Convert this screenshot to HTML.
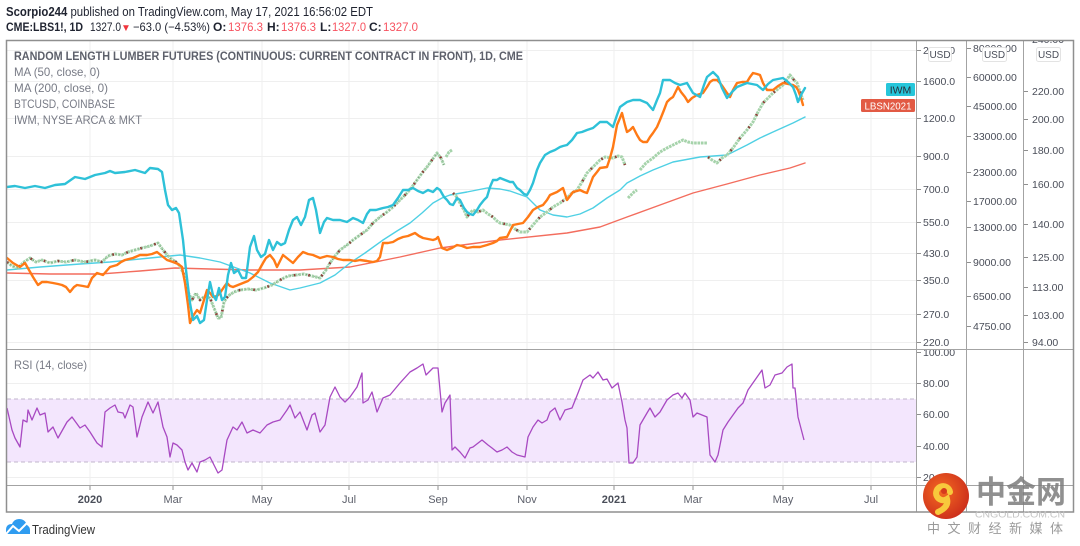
<!DOCTYPE html>
<html><head><meta charset="utf-8"><style>
html,body{margin:0;padding:0;background:#fff;}
svg{display:block;}
text{font-family:"Liberation Sans","Noto Sans CJK SC",sans-serif;}
</style></head><body>
<svg width="1080" height="546" viewBox="0 0 1080 546" xmlns="http://www.w3.org/2000/svg">
<defs>
<clipPath id="main"><rect x="7" y="41" width="909" height="308"/></clipPath>
<clipPath id="rsi"><rect x="7" y="350" width="909" height="136"/></clipPath>
<clipPath id="rsiax"><rect x="916" y="350" width="50" height="136"/></clipPath>
<clipPath id="topax"><rect x="916" y="41" width="157" height="308"/></clipPath>
<radialGradient id="lg" cx="0.4" cy="0.4" r="0.7"><stop offset="0" stop-color="#f46a22"/><stop offset="1" stop-color="#c9291b"/></radialGradient>
</defs>

<!-- header -->
<text x="6" y="16" font-size="12.5" fill="#1f2330" textLength="367" lengthAdjust="spacingAndGlyphs"><tspan font-weight="bold">Scorpio244</tspan> published on TradingView.com, May 17, 2021 16:56:02 EDT</text>
<g font-size="12" fill="#1f2330">
<text x="6" y="31" font-weight="bold" textLength="77" lengthAdjust="spacingAndGlyphs">CME:LBS1!, 1D</text>
<text x="90" y="31" textLength="31" lengthAdjust="spacingAndGlyphs">1327.0</text>
<text x="121" y="31" fill="#f0353d" font-size="10">▼</text>
<text x="133" y="31" textLength="77" lengthAdjust="spacingAndGlyphs">−63.0 (−4.53%)</text>
<text x="213" y="31" font-weight="bold">O:</text><text x="228" y="31" fill="#f7525f" textLength="35" lengthAdjust="spacingAndGlyphs">1376.3</text>
<text x="267" y="31" font-weight="bold">H:</text><text x="281" y="31" fill="#f7525f" textLength="35" lengthAdjust="spacingAndGlyphs">1376.3</text>
<text x="320" y="31" font-weight="bold">L:</text><text x="332" y="31" fill="#f7525f" textLength="34" lengthAdjust="spacingAndGlyphs">1327.0</text>
<text x="369" y="31" font-weight="bold">C:</text><text x="383" y="31" fill="#f7525f" textLength="35" lengthAdjust="spacingAndGlyphs">1327.0</text>
</g>

<!-- grid -->
<g stroke="#efefef" stroke-width="1">
<path d="M90 41V486M173 41V486M262 41V486M349 41V486M438 41V486M527 41V486M614 41V486M693 41V486M783 41V486M871 41V486"/>
<path d="M7 50.5H916M7 81.5H916M7 118.5H916M7 156.5H916M7 189.5H916M7 222.5H916M7 253.5H916M7 280.5H916M7 314.5H916M7 342.5H916"/>
<path d="M7 383.5H916M7 414.5H916M7 446.5H916M7 477.5H916"/>
</g>

<!-- legend -->
<g font-size="12" fill="#787b86">
<text x="14" y="60" font-weight="bold" fill="#5d606b" textLength="509" lengthAdjust="spacingAndGlyphs">RANDOM LENGTH LUMBER FUTURES (CONTINUOUS: CURRENT CONTRACT IN FRONT), 1D, CME</text>
<text x="14" y="76" textLength="86" lengthAdjust="spacingAndGlyphs">MA (50, close, 0)</text>
<text x="14" y="92" textLength="94" lengthAdjust="spacingAndGlyphs">MA (200, close, 0)</text>
<text x="14" y="108" textLength="101" lengthAdjust="spacingAndGlyphs">BTCUSD, COINBASE</text>
<text x="14" y="124" textLength="128" lengthAdjust="spacingAndGlyphs">IWM, NYSE ARCA &amp; MKT</text>
</g>

<g clip-path="url(#main)" fill="none" stroke-linejoin="round" stroke-linecap="round">
<!-- MA200 -->
<polyline stroke="#f36d5e" stroke-width="1.4" points="7,273 50,274 100,274 140,271 175,268 210,269 250,270 300,270 350,267 400,257 440,248 470,244 500,240 567,233 600,227 627,217 660,205 693,193 727,184 760,175 790,168 805,163"/>
<!-- MA50 -->
<polyline stroke="#4fd0e4" stroke-width="1.4" points="7,270 40,267 80,264 110,262 150,258 180,255 200,258 220,262 250,273 270,283 290,290 300,288 320,283 335,275 350,263 365,253 383,240 397,231 410,223 422,213 433,203 442,198 450,195 467,192 487,188 500,189 510,191 527,197 540,210 553,215 567,217 580,214 593,208 607,198 620,190 627,183 640,176 653,170 673,162 700,157 727,155 747,145 760,138 773,132 793,123 805,117"/>
<!-- candles -->
<g stroke-linecap="butt">
<g stroke="#a6d3ab" stroke-width="3" stroke-dasharray="2.6 0.8">
<polyline points="7,262 12,266 18,268 24,262 30,258 36,262 42,260 50,263 58,261 66,262 75,260 85,262 95,260 102,262 108,256 115,254 122,255 128,252 135,250 142,248 150,246 158,243 163,250 170,258 176,262 180,266 184,275 188,292 192,300 196,293 200,300 205,296 210,298 214,308 218,318 221,318 224,302 228,296 234,292 240,290 248,289 256,290 264,288 272,285 280,280 288,276 296,275 304,274 312,276 320,278 326,270 330,263 335,256 340,250 347,245 353,240 360,235 367,230 373,223 380,217 387,212 393,207 400,200 407,193 412,187 417,180 422,173 427,167 432,160 437,153 441,158 444,165"/>
<polyline points="446,157 449,152 452,150"/>
<polyline points="453,193 456,196 460,203 464,210 467,217 470,213 473,210 478,212 483,210 488,214 493,217 497,221 500,223 505,224 510,225 515,229 520,232 527,232 533,225 540,217 547,212 553,207 560,203 567,198 572,193 577,190 582,182 587,173 593,167 600,160 605,157 613,158 618,156 622,157 625,165"/>
<polyline points="628,198 631,195 634,192 637,190"/>
<polyline points="640,170 646,163 653,158 660,152 667,148 675,144 683,140 688,142 693,143 700,143 707,143"/>
<polyline points="708,157 712,160 717,163 722,158 727,155 733,148 740,138 747,130 753,122 758,112 763,103 768,98 773,93 778,89 783,85 788,78 790,75 794,80 797,83 800,92 803,100"/>
</g>
<g stroke="#6f8f74" stroke-width="0.8">
<polyline points="7,262 12,266 18,268 24,262 30,258 36,262 42,260 50,263 58,261 66,262 75,260 85,262 95,260 102,262 108,256 115,254 122,255 128,252 135,250 142,248 150,246 158,243 163,250 170,258 176,262 180,266 184,275 188,292 192,300 196,293 200,300 205,296 210,298 214,308 218,318 221,318 224,302 228,296 234,292 240,290 248,289 256,290 264,288 272,285 280,280 288,276 296,275 304,274 312,276 320,278 326,270 330,263 335,256 340,250 347,245 353,240 360,235 367,230 373,223 380,217 387,212 393,207 400,200 407,193 412,187 417,180 422,173 427,167 432,160 437,153 441,158 444,165" stroke-dasharray="1 3"/>
</g>
<g stroke="#8e3a36" stroke-width="2.6" stroke-dasharray="1.6 13">
<polyline points="7,262 12,266 18,268 24,262 30,258 36,262 42,260 50,263 58,261 66,262 75,260 85,262 95,260 102,262 108,256 115,254 122,255 128,252 135,250 142,248 150,246 158,243 163,250 170,258 176,262 180,266 184,275 188,292 192,300 196,293 200,300 205,296 210,298 214,308 218,318 221,318 224,302 228,296 234,292 240,290 248,289 256,290 264,288 272,285 280,280 288,276 296,275 304,274 312,276 320,278 326,270 330,263 335,256 340,250 347,245 353,240 360,235 367,230 373,223 380,217 387,212 393,207 400,200 407,193 412,187 417,180 422,173 427,167 432,160 437,153 441,158 444,165"/>
<polyline points="453,193 456,196 460,203 464,210 467,217 470,213 473,210 478,212 483,210 488,214 493,217 497,221 500,223 505,224 510,225 515,229 520,232 527,232 533,225 540,217 547,212 553,207 560,203 567,198 572,193 577,190 582,182 587,173 593,167 600,160 605,157 613,158 618,156 622,157 625,165"/>
<polyline points="708,157 712,160 717,163 722,158 727,155 733,148 740,138 747,130 753,122 758,112 763,103 768,98 773,93 778,89 783,85 788,78 790,75 794,80 797,83 800,92 803,100"/>
</g>
</g>
<!-- BTC orange -->
<polyline stroke="#ff7a16" stroke-width="2.4" points="7,258 13,263 20,267 25,263 29,270 33,277 38,285 42,282 47,282 53,283 58,284 62,285 66,287 70,292 74,287 77,285 83,286 88,287 92,278 97,273 103,275 110,267 117,265 121,262 125,260 133,258 140,255 147,255 152,254 157,252 162,256 167,260 173,262 178,264 182,267 185,283 188,305 190,323 193,316 197,310 200,313 204,300 207,290 210,293 213,297 217,296 220,293 224,287 227,283 230,286 233,287 238,285 243,283 248,281 253,277 258,272 263,263 266,258 270,255 274,260 277,267 280,261 283,255 288,259 293,263 298,257 303,252 308,254 313,255 320,258 327,256 333,257 338,259 343,260 350,260 355,261 360,260 367,261 373,262 377,261 380,257 383,243 388,243 393,242 398,239 403,237 408,236 415,233 419,236 423,238 428,239 433,240 436,239 438,237 442,248 447,250 452,248 457,245 462,246 467,248 473,247 480,247 487,245 493,243 497,241 500,238 507,237 510,231 513,225 518,224 523,223 528,217 533,210 538,207 543,205 547,200 550,195 557,192 563,188 565,194 567,200 570,196 573,192 577,191 580,190 584,192 587,193 590,185 593,177 597,172 600,168 607,167 610,158 613,147 617,125 620,118 622,113 625,125 627,132 630,130 633,127 637,135 640,140 643,142 647,142 650,137 653,133 657,127 660,120 664,110 667,102 670,99 673,97 676,91 678,87 681,92 685,97 688,102 692,98 697,95 700,94 703,93 707,87 710,82 713,80 717,80 720,83 723,87 727,93 730,97 733,90 737,83 742,82 747,82 750,77 753,73 757,74 760,75 763,83 767,90 770,90 773,90 778,86 783,83 788,84 793,85 796,87 798,90 801,98 803,105"/>
<!-- IWM cyan -->
<polyline stroke="#2ec1d8" stroke-width="2.4" points="7,187 15,186 25,188 35,186 45,188 55,185 65,184 75,177 85,179 95,175 105,173 110,171 115,173 125,172 135,170 145,173 150,168 158,169 162,172 165,190 168,205 172,210 176,208 179,213 183,240 186,270 190,303 193,320 197,316 200,323 204,320 207,300 210,282 213,295 216,300 219,288 222,300 225,297 228,275 231,263 234,273 238,270 242,278 246,278 250,247 254,236 257,250 261,257 265,254 269,240 273,250 277,242 281,245 285,243 289,230 293,220 297,217 301,225 305,217 309,200 313,198 316,210 320,233 324,222 327,218 333,220 340,220 347,222 353,218 358,220 363,223 367,214 370,210 376,210 383,208 388,207 393,205 398,198 403,190 408,190 413,188 418,191 423,193 428,190 433,192 437,188 440,190 444,197 447,200 450,204 453,205 457,198 460,200 464,208 467,212 470,214 473,215 477,210 480,205 484,200 487,197 490,187 493,180 497,180 500,178 505,180 510,182 513,182 517,188 520,190 524,194 527,195 530,190 533,183 537,170 540,163 545,155 550,152 555,150 560,147 563,146 567,145 572,140 577,133 582,132 587,130 593,128 600,122 607,122 613,127 617,115 620,107 627,102 633,100 640,100 647,103 653,110 657,100 660,93 663,80 670,80 675,83 680,85 687,83 690,88 693,93 700,97 704,85 707,77 713,72 718,77 722,88 727,98 732,92 737,87 742,85 747,83 752,84 757,85 763,90 768,84 773,80 778,79 783,78 788,82 793,87 796,95 798,102 801,95 805,88"/>
</g>

<!-- badges -->
<rect x="886" y="83" width="29" height="13" rx="1.5" fill="#26c6da"/>
<text x="900.5" y="93.5" font-size="10.5" fill="#2a2e39" text-anchor="middle">IWM</text>
<rect x="861" y="99" width="54" height="13" rx="1.5" fill="#e25a44"/>
<text x="888" y="109.5" font-size="10.5" fill="#fff" text-anchor="middle" textLength="47" lengthAdjust="spacingAndGlyphs">LBSN2021</text>

<!-- RSI pane -->
<g clip-path="url(#rsi)">
<rect x="7" y="399" width="909" height="63" fill="#f3e6fd"/>
<path d="M7 399H916M7 462H916" stroke="#c2b6cc" stroke-width="1" stroke-dasharray="4 3"/>
<polyline fill="none" stroke="#a849c2" stroke-width="1.3" stroke-linejoin="round" points="7,408 12,430 15,438 20,447 23,420 27,422 28,410 32,420 37,408 40,415 45,413 48,432 53,427 58,438 67,422 72,417 80,428 85,425 90,432 97,443 102,447 105,412 110,408 115,405 118,412 123,413 125,418 130,405 133,407 137,437 142,417 148,402 153,413 158,402 163,427 167,437 170,457 173,443 177,445 182,450 185,462 188,470 192,463 197,472 200,462 205,460 210,457 213,463 218,473 222,470 227,440 233,427 237,430 242,422 247,433 253,430 260,433 267,425 273,422 280,420 287,410 290,405 295,418 300,412 307,430 312,415 315,413 320,432 325,425 330,397 335,387 340,397 345,402 350,397 357,387 362,373 363,403 368,400 372,392 377,412 383,398 390,395 400,383 410,372 417,368 423,364 426,375 433,368 438,368 442,412 445,403 450,395 452,450 455,447 460,452 465,458 470,448 473,447 482,440 488,445 492,448 497,452 502,450 507,447 512,452 517,455 525,457 528,437 533,427 538,420 542,423 547,420 550,412 555,408 560,420 565,410 572,408 578,393 583,380 590,375 593,378 598,372 603,380 607,379 612,388 618,383 622,402 625,420 627,428 629,463 633,463 637,457 640,425 647,413 650,408 655,417 660,412 667,400 673,395 678,393 682,398 685,393 690,400 693,417 697,413 702,415 707,417 710,455 715,462 718,455 723,430 728,422 733,415 738,408 743,403 748,390 755,380 762,370 765,388 770,385 775,375 782,373 787,367 792,364 793,388 795,388 798,417 804,440"/>
</g>
<text x="14" y="369" font-size="12" fill="#787b86" textLength="73" lengthAdjust="spacingAndGlyphs">RSI (14, close)</text>

<!-- frame & separators -->
<g stroke="#a3a3a3" stroke-width="1" fill="none">
<path d="M916.5 41V512M966.5 41V512M1023.5 41V512"/>
<path d="M7 349.5H1073M7 485.5H1073"/>
</g>
<rect x="6.5" y="40.5" width="1067" height="471.5" fill="none" stroke="#8f8f8f" stroke-width="1.5"/>

<!-- axis labels -->
<g font-size="10.5" fill="#4a4e59" clip-path="url(#topax)">
<g stroke="#8f8f8f" stroke-width="1">
<path d="M917 50.5h4M917 81.5h4M917 118.5h4M917 156.5h4M917 189.5h4M917 222.5h4M917 253.5h4M917 280.5h4M917 314.5h4M917 342.5h4"/>
<path d="M967 48.5h4M967 77.5h4M967 106.5h4M967 136.5h4M967 172.5h4M967 201.5h4M967 227.5h4M967 262.5h4M967 296.5h4M967 326.5h4"/>
<path d="M1024 39.5h4M1024 91.5h4M1024 119.5h4M1024 150.5h4M1024 184.5h4M1024 224.5h4M1024 257.5h4M1024 287.5h4M1024 315.5h4M1024 342.5h4"/>
</g>
<text x="923" y="54">2000.0</text><text x="923" y="85">1600.0</text><text x="923" y="122">1200.0</text><text x="923" y="160">900.0</text><text x="923" y="193">700.0</text><text x="923" y="226">550.0</text><text x="923" y="257">430.0</text><text x="923" y="284">350.0</text><text x="923" y="318">270.0</text><text x="923" y="346">220.0</text>
<text x="973" y="52">80000.00</text><text x="973" y="81">60000.00</text><text x="973" y="110">45000.00</text><text x="973" y="140">33000.00</text><text x="973" y="176">23000.00</text><text x="973" y="205">17000.00</text><text x="973" y="231">13000.00</text><text x="973" y="266">9000.00</text><text x="973" y="300">6500.00</text><text x="973" y="330">4750.00</text>
<text x="1032" y="43">240.00</text><text x="1032" y="95">220.00</text><text x="1032" y="123">200.00</text><text x="1032" y="154">180.00</text><text x="1032" y="188">160.00</text><text x="1032" y="228">140.00</text><text x="1032" y="261">125.00</text><text x="1032" y="291">113.00</text><text x="1032" y="319">103.00</text><text x="1032" y="346">94.00</text>
</g>
<g font-size="10.5" fill="#4a4e59" clip-path="url(#rsiax)">
<path d="M917 352.5h4M917 383.5h4M917 414.5h4M917 446.5h4M917 477.5h4" stroke="#8f8f8f"/>
<text x="923" y="356">100.00</text><text x="923" y="387">80.00</text><text x="923" y="418">60.00</text><text x="923" y="450">40.00</text><text x="923" y="481">20.00</text>
</g>

<!-- USD badges -->
<g font-size="10" fill="#4a4e59">
<rect x="928.5" y="47.5" width="23" height="14" rx="2" fill="#fff" stroke="#e3e3e3"/><text x="940" y="58" text-anchor="middle">USD</text>
<rect x="982.5" y="47.5" width="24" height="14" rx="2" fill="#fff" stroke="#e3e3e3"/><text x="994.5" y="58" text-anchor="middle">USD</text>
<rect x="1036.5" y="47.5" width="24" height="14" rx="2" fill="#fff" stroke="#e3e3e3"/><text x="1048.5" y="58" text-anchor="middle">USD</text>
</g>

<!-- x axis -->
<path d="M90 486v4M173 486v4M262 486v4M349 486v4M438 486v4M527 486v4M614 486v4M693 486v4M783 486v4M871 486v4" stroke="#8f8f8f"/>
<g font-size="11" fill="#5d606b" text-anchor="middle">
<text x="90" y="503" font-weight="bold" fill="#4a4e59">2020</text>
<text x="173" y="503">Mar</text><text x="262" y="503">May</text><text x="349" y="503">Jul</text><text x="438" y="503">Sep</text><text x="527" y="503">Nov</text>
<text x="614" y="503" font-weight="bold" fill="#4a4e59">2021</text>
<text x="693" y="503">Mar</text><text x="783" y="503">May</text><text x="871" y="503">Jul</text>
</g>

<!-- TradingView logo -->
<g>
<path d="M6 534 L6 530 Q6 524 12 524 Q14 519 19 519 Q25 519 27 525 Q30 527 30 530 L30 534 Z" fill="#2f9cf0"/>
<path d="M6 534 L13 526 L19 531 L27 523" fill="none" stroke="#fff" stroke-width="2"/>
<text x="32" y="534" font-size="13" fill="#333" textLength="63" lengthAdjust="spacingAndGlyphs">TradingView</text>
</g>

<!-- watermark -->
<g>
<circle cx="946" cy="496" r="23" fill="url(#lg)"/>
<path d="M950 492 a7 7 0 1 0 -3 7 q2 8 -9 13" fill="none" stroke="#f8c93c" stroke-width="6" stroke-linecap="round"/>
<circle cx="944" cy="491" r="3" fill="#d63a1d"/>
<text x="976" y="503" font-size="31" font-weight="bold" fill="#7d7d7d" fill-opacity="0.85" font-family="Noto Sans CJK SC, sans-serif" textLength="90" lengthAdjust="spacingAndGlyphs">中金网</text>
<text x="975" y="517.5" font-size="9.5" fill="#c4c4c4" textLength="90" lengthAdjust="spacingAndGlyphs">CNGOLD.COM.CN</text>
<text x="927" y="533" font-size="13" fill="#9a9a9a" font-family="Noto Sans CJK SC, sans-serif" textLength="136" lengthAdjust="spacing">中文财经新媒体</text>
</g>
</svg>
</body></html>
